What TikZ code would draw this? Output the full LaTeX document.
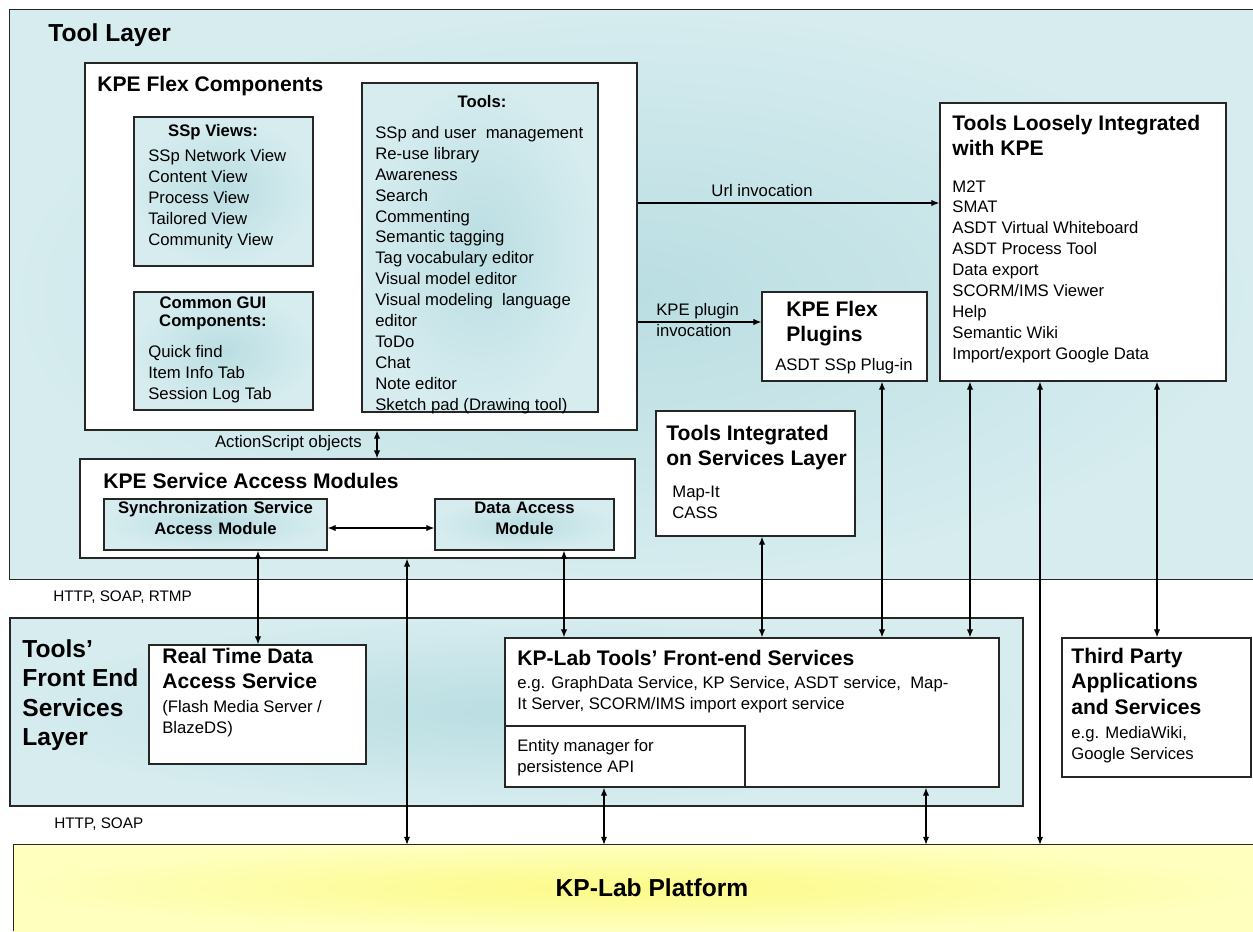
\documentclass[tikz,border=0pt]{standalone}
\usepackage{fontspec}
\setmainfont{Liberation Sans}
\usetikzlibrary{arrows.meta,fit}
\definecolor{tealin}{RGB}{186,222,226}
\definecolor{tealout}{RGB}{214,236,239}
\definecolor{platin}{RGB}{252,250,135}
\definecolor{platout}{RGB}{255,255,190}
\newcommand{\fbig}   {\bfseries\fontsize{14}{16.8}\selectfont}
\newcommand{\fhead}  {\bfseries\fontsize{12}{14.4}\selectfont}
\newcommand{\fsub}   {\bfseries\fontsize{9.5}{11.9}\selectfont}
\newcommand{\fbody}  {\fontsize{9.5}{11.9}\selectfont}
\newcommand{\fsmall} {\fontsize{8.7}{10.5}\selectfont}

\begin{document}
\begin{tikzpicture}[x=0.02cm,y=-0.02cm,
  layer/.style={inner sep=0pt,shade,shading=radial,inner color=tealin,outer color=tealout},
  edge/.style={draw=black!85,line width=0.8pt},
  wbox/.style={edge,fill=white,inner sep=0pt},
  tbox/.style={edge,inner sep=0pt,shade,shading=radial,inner color=tealin,outer color=tealout},
  txt/.style={anchor=north west,align=left,inner sep=0pt},
  conn/.style={<->,line width=0.6pt},
  >={Latex[length=4.5pt,width=3.6pt]}]
  \useasboundingbox (0,0) rectangle (1253,931);

  % layers
  \node[layer,fit={(10,10)(1253,579)}] (tool) {};
  \draw[edge] (tool.north east) -- (tool.north west) -- (tool.south west) -- (tool.south east);
  \node[tbox,fit={(10,618)(1023,806)}] (front) {};
  \node[inner sep=0pt,shade,shading=radial,inner color=platin,outer color=platout,
        fit={(14,845)(1253,931)}] (plat) {};
  \draw[edge] (plat.south west) -- (plat.north west) -- (plat.north east);

  \node[txt,font=\fbig] (tooltl) at (48,23) {Tool Layer};
  \node[txt,font=\fbig] (fronttl) at (22,639) {Tools'\\Front End\\Services\\Layer};
  \node[font=\bfseries\fontsize{14}{16}\selectfont] (plattl) at (652,888) {KP-Lab Platform};

  % KPE flex components
  \node[wbox,fit={(85,63)(637,430)}] (flex) {};
  \node[txt,font=\fhead] (flextl) at (97,76) {KPE Flex Components};
  \node[tbox,fit={(134,117)(313,266)}] (views) {};
  \node[anchor=north,inner sep=0pt,font=\fsub] (viewstl) at (213,124) {SSp Views:};
  \node[txt,font=\fbody] (viewsls) at (148,149)
    {SSp Network View\\Content View\\Process View\\Tailored View\\Community View};
  \node[tbox,fit={(134,292)(313,410)}] (gui) {};
  \node[anchor=north,align=center,inner sep=0pt,font=\bfseries\fontsize{9.5}{10.4}\selectfont] (guitl) at (213,296)
    {Common GUI\\Components:};
  \node[txt,font=\fbody] (guils) at (148,345) {Quick find\\Item Info Tab\\Session Log Tab};
  \node[tbox,fit={(362,83)(598,412)}] (tools) {};
  \node[anchor=north,inner sep=0pt,font=\fsub] (toolstl) at (482,95) {Tools:};
  \node[txt,font=\fbody] (toolsls) at (375,126)
    {SSp and user~ management\\Re-use library\\Awareness\\Search\\Commenting\\Semantic tagging\\
     Tag vocabulary editor\\Visual model editor\\Visual modeling~ language\\editor\\ToDo\\Chat\\
     Note editor\\Sketch pad (Drawing tool)};

  % loosely integrated tools and plugins
  \node[wbox,fit={(940,103)(1226,381)}] (loose) {};
  \node[txt,font=\fhead] (loosetl) at (952,115) {Tools Loosely Integrated\\with KPE};
  \node[txt,font=\fbody] (loosels) at (952,180)
    {M2T\\SMAT\\ASDT Virtual Whiteboard\\ASDT Process Tool\\Data export\\SCORM/IMS Viewer\\
     Help\\Semantic Wiki\\Import/export Google Data};
  \node[wbox,fit={(762,292)(927,381)}] (plug) {};
  \node[txt,font=\fhead] (plugtl) at (786,301) {KPE Flex\\Plugins};
  \node[txt,font=\fbody] (plugls) at (775,358) {ASDT SSp Plug-in};
  \node[wbox,fit={(656,411)(855,536)}] (integ) {};
  \node[txt,font=\fhead] (integtl) at (666,425) {Tools Integrated\\on Services Layer};
  \node[txt,font=\fbody] (integls) at (672,486) {Map-It\\CASS};

  % service access modules
  \node[wbox,fit={(80,459)(635,558)}] (sam) {};
  \node[txt,font=\fhead] (samtl) at (103,473) {KPE Service Access Modules};
  \node[tbox,fit={(104,499)(327,550)},align=center,font=\fsub] (sync)
    {Synchronization Service\\Access Module};
  \node[tbox,fit={(435,499)(614,550)},align=center,font=\fsub] (dam) {Data Access\\Module};

  % front end services
  \node[wbox,fit={(149,645)(366,764)}] (rtds) {};
  \node[txt,font=\fhead] (rtdstl) at (162,648) {Real Time Data\\Access Service};
  \node[txt,font=\fbody] (rtdsls) at (162,700) {(Flash Media Server /\\BlazeDS)};
  \node[wbox,fit={(505,638)(999,787)}] (fes) {};
  \node[txt,font=\fhead] (festl) at (517,650) {KP-Lab Tools' Front-end Services};
  \node[txt,font=\fbody] (fesls) at (517,676)
    {e.g. GraphData Service, KP Service, ASDT service,~ Map-\\It Server, SCORM/IMS import export service};
  \node[wbox,fit={(505,726)(745,787)}] (ent) {};
  \node[txt,font=\fbody] (entls) at (517,739) {Entity manager for\\persistence API};
  \node[wbox,fit={(1062,638)(1251,777)}] (third) {};
  \node[txt,font=\fhead] (thirdtl) at (1071,648) {Third Party\\Applications\\and Services};
  \node[txt,font=\fbody] (thirdls) at (1071,726) {e.g. MediaWiki,\\Google Services};

  \node[txt,font=\fsmall] (proto1) at (53,590) {HTTP, SOAP, RTMP};
  \node[txt,font=\fsmall] (proto2) at (54,817) {HTTP, SOAP};

  % connectors
  \draw[line width=0.6pt,->] (flex.east |- 0,203) -- (loose.west |- 0,203);
  \node[font=\fbody,inner sep=0pt] (urllbl) at (762,191) {Url invocation};
  \draw[line width=0.6pt,->] (flex.east |- 0,322) -- (plug.west |- 0,322);
  \node[txt,font=\fbody] (pluglbl) at (656,303) {KPE plugin\\invocation};
  \draw[conn] (flex.south -| 377,0) -- (sam.north -| 377,0);
  \node[anchor=east,font=\fbody,inner sep=0pt] (aslbl) at (362,443) {ActionScript objects};
  \draw[conn] (sync.east |- 0,528) -- (dam.west |- 0,528);
  \foreach \x/\a/\b in {258/sync/rtds, 407/sam/plat, 564/dam/fes, 762/integ/fes,
                        882/plug/fes, 970/loose/fes, 1040/loose/plat, 1157/loose/third,
                        604/fes/plat, 926/fes/plat}
    \draw[conn] (\a.south -| \x,0) -- (\b.north -| \x,0);
\end{tikzpicture}
\end{document}
